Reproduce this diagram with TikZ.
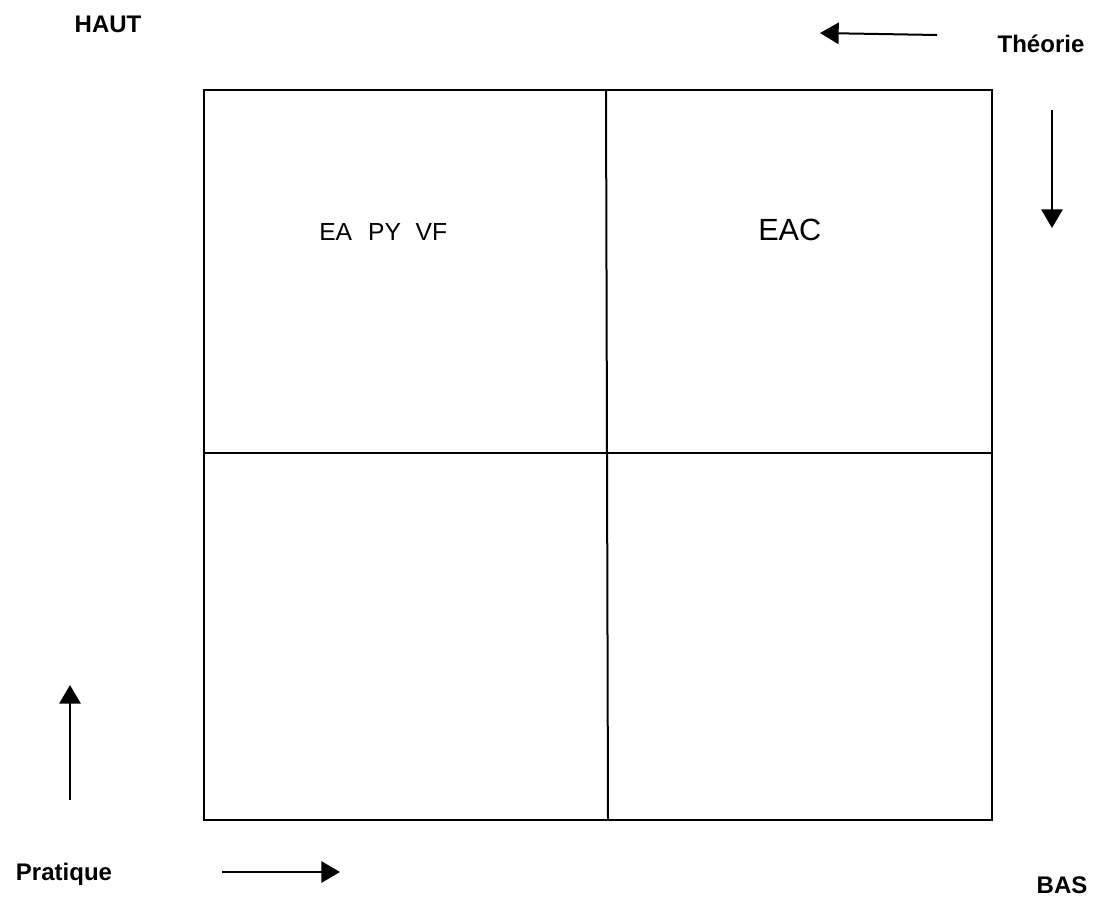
\documentclass[tikz,border=0pt]{standalone}
\usepackage{fontspec}
\setmainfont{Liberation Sans}
\usetikzlibrary{arrows.meta}
\tikzset{
  frame/.style={line width=1.5pt},
  axisarrow/.style={line width=1.5pt,-{Triangle[length=14pt,width=16pt]}},
  corner/.style={font=\bfseries\fontsize{18pt}{20pt}\selectfont,inner sep=0pt,anchor=base},
  cell/.style={inner sep=0pt,anchor=base west},
}
\begin{document}
\begin{tikzpicture}[x=0.75pt,y=-0.75pt]
\useasboundingbox (0,0) rectangle (1110,903);
% grid corners and split points
\coordinate (tl) at (204,90);
\coordinate (br) at (992,820);
\coordinate (mt) at (606,90);
\coordinate (mb) at (608,820);
\coordinate (ml) at (204,453);
\coordinate (mr) at (992,453);
\draw[frame] (tl) rectangle (br);
\draw[frame] (mt) -- (mb);
\draw[frame] (ml) -- (mr);
% quadrant contents
\node[cell,font=\fontsize{18.5pt}{20pt}\selectfont] (q1) at (319,240) {EA\hspace{12pt}PY\hspace{11pt}VF};
\node[cell,font=\fontsize{23pt}{25pt}\selectfont] (q2) at (758,240) {EAC};
% corner labels
\node[corner] (haut) at (108,32) {HAUT};
\node[corner] (theo) at (1041,52) {Théorie};
\node[corner] (prat) at (64,880) {Pratique};
\node[corner] (bas) at (1062,893) {BAS};
% direction arrows
\coordinate (ta0) at (937,35);
\coordinate (ta1) at (820,33);
\coordinate (ra0) at (1052,110);
\coordinate (ra1) at (1052,228);
\coordinate (la0) at (70,800);
\coordinate (la1) at (70,685);
\coordinate (ba0) at (222,872);
\coordinate (ba1) at (340,872);
\draw[axisarrow] (ta0) -- (ta1);
\draw[axisarrow] (ra0) -- (ra1);
\draw[axisarrow] (la0) -- (la1);
\draw[axisarrow] (ba0) -- (ba1);
\end{tikzpicture}
\end{document}
